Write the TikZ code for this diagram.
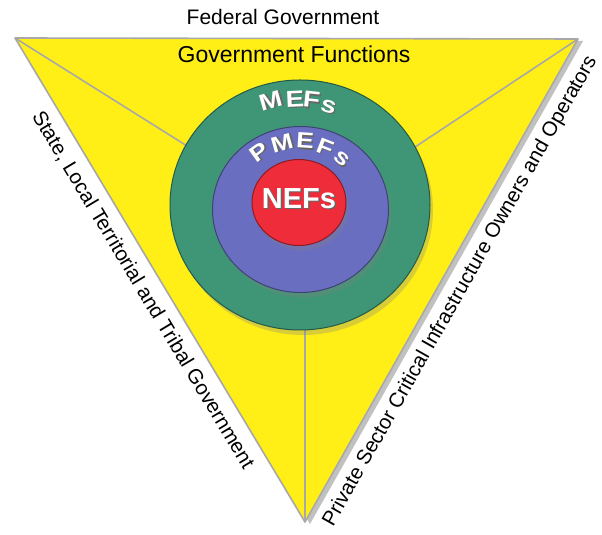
\documentclass[tikz,border=0pt]{standalone}
\usepackage{fontspec}
\setmainfont{Liberation Sans}
\usetikzlibrary{shapes.geometric, shadows}
\definecolor{fnyellow}{RGB}{255,239,22}
\definecolor{fngray}{RGB}{168,168,168}
\definecolor{fngreen}{RGB}{62,150,118}
\definecolor{fnblue}{RGB}{106,110,192}
\definecolor{fnred}{RGB}{238,44,58}
\newcommand\fnshade[1]{\rlap{\textcolor{black!60}{\kern1.4pt\raisebox{-1.4pt}{#1}}}#1}

\begin{document}
\begin{tikzpicture}[x=1pt, y=1pt,
    edge/.style={draw=fngray, line width=1.6pt},
    ring/.style={ellipse, draw=#1!60!black, line width=1pt, fill=#1,
        drop shadow={shadow xshift=3pt, shadow yshift=-5pt, opacity=.3}},
    side/.style={font={\fontsize{20.5}{24}\selectfont}},
    letter/.style={text=white, inner sep=0pt, font={\fontsize{#1}{#1}\selectfont\bfseries}}]

    \useasboundingbox (0,0) rectangle (602,535);

    \coordinate (fed-left) at (15,497);
    \coordinate (fed-right) at (578,496);
    \coordinate (sector-bottom) at (305,13);
    \coordinate (hub) at (305,315);

    \filldraw[fill=fnyellow, draw=fngray, line width=1.6pt, line join=round,
        drop shadow={fill=black!35, opacity=.7, shadow xshift=5pt, shadow yshift=-2pt}]
        (fed-left) -- (fed-right) -- (sector-bottom) -- cycle;

    \draw[edge] (fed-left) -- (hub);
    \draw[edge] (fed-right) -- (hub);
    \draw[edge] (hub) -- (sector-bottom);

    \node[anchor=base, font={\fontsize{21}{24}\selectfont}] (federal-gov) at (283,510) {Federal Government};
    \node[anchor=base, font={\fontsize{23}{26}\selectfont}] (gov-functions) at (294,472) {Government Functions};

    \path (fed-left) -- (sector-bottom) node[side, sloped, below, pos=.5, inner sep=11pt] (state-gov) {State, Local Territorial and Tribal Government};
    \path (sector-bottom) -- (fed-right) node[side, sloped, below, pos=.5, inner sep=12pt] (private-sector) {Private Sector Critical Infrastructure Owners and Operators};

    \node[ring=fngreen, minimum width=260, minimum height=250] (mefs-ring) at (300,330) {};
    \node[ring=fnblue, minimum width=176, minimum height=166] (pmefs-ring) at (300.5,325.5) {};
    \node[ring=fnred, minimum width=94, minimum height=86] (nefs-ring) at (299,332.5) {};

    \foreach \ch/\ang/\rad [count=\i] in {M/105.7/108, E/92.7/105.5, F/83.7/105, s/73.9/102}
        \node[letter=23, rotate=\ang-90, xscale=1.2] (mefs-\i) at ([shift={(\ang:\rad)}]mefs-ring.center) {\fnshade{\ch}};

    \foreach \ch/\ang/\rad [count=\i] in {P/125.8/70, M/105.5/68.5, E/86.2/68, F/68.6/66.5, s/50.5/65}
        \node[letter=22, rotate=\ang-90, xscale=1.2] (pmefs-\i) at ([shift={(\ang:\rad)}]pmefs-ring.center) {\fnshade{\ch}};

    \node[letter=29] (nefs-label) at ([yshift=3.5]nefs-ring.center) {\fnshade{NEFs}};
\end{tikzpicture}
\end{document}
